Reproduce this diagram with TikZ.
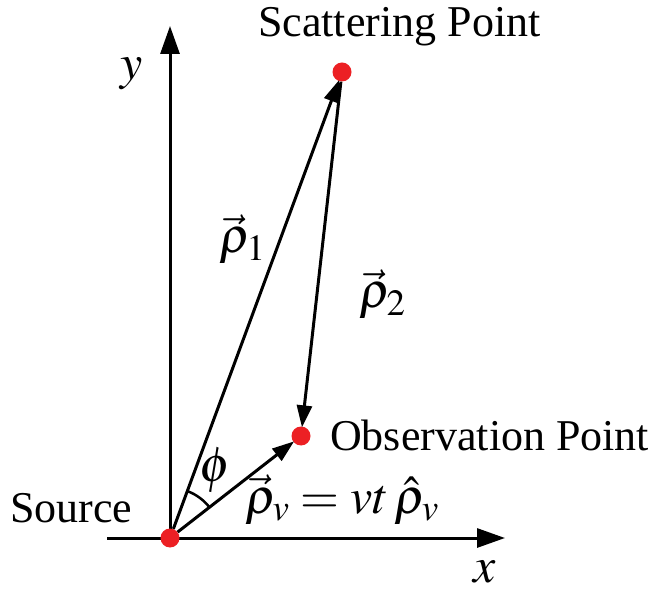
\documentclass[tikz,border=0pt]{standalone}
\usepackage{mathptmx}
\usepackage{fontspec}
\setmainfont{Liberation Serif}
\usetikzlibrary{arrows.meta}
\definecolor{dotred}{RGB}{236,32,36}
\begin{document}
\begin{tikzpicture}[x=1pt,y=-1pt,
  dot/.style={circle,fill=dotred,inner sep=0pt,minimum size=19pt},
  axis/.style={line width=3pt,-{Triangle[length=28pt,width=19pt]}},
  vec/.style={line width=3pt,-{Triangle[length=22pt,width=15pt]},shorten >=-1pt},
  lbl/.style={inner sep=0pt,font=\fontsize{44}{50}\selectfont},
  mlbl/.style={inner sep=0pt,font=\fontsize{50}{56}\selectfont}]
\useasboundingbox (0,0) rectangle (656,593);
\coordinate (xl) at (107,538);
\coordinate (xr) at (505,538);
\coordinate (yb) at (170,538);
\coordinate (yt) at (170,26);
\draw[axis] (xl) -- (xr);
\draw[axis] (yb) -- (yt);
\node[dot] (S) at (170,538) {};
\node[dot] (P) at (342,72) {};
\node[dot] (O) at (301,436) {};
\draw[vec] (S) -- (P);
\draw[vec] (P) -- (O);
\draw[vec] (S) -- (O);
\draw[line width=2.5pt] ([shift={(-69.9:50)}]170,538) arc[start angle=-69.9,end angle=-37.8,radius=50];
\node[lbl,anchor=base west] (ts) at (258,37) {Scattering Point};
\node[lbl,anchor=base west] (to) at (330,450) {Observation Point};
\node[lbl,anchor=base west] (tsrc) at (10,522) {Source};
\node[mlbl] (ty) at (132,74) {$y$};
\node[mlbl] (tx) at (485,572) {$x$};
\node[mlbl,anchor=base west] (r1) at (219,253) {$\vec{\rho}_1$};
\node[mlbl,anchor=base west] (r2) at (359,308) {$\vec{\rho}_2$};
\node[mlbl] (ph) at (215,470) {$\phi$};
\node[mlbl,anchor=base west] (rv) at (245,513) {$\vec{\rho}_v = vt\,\hat{\rho}_v$};
\end{tikzpicture}
\end{document}
